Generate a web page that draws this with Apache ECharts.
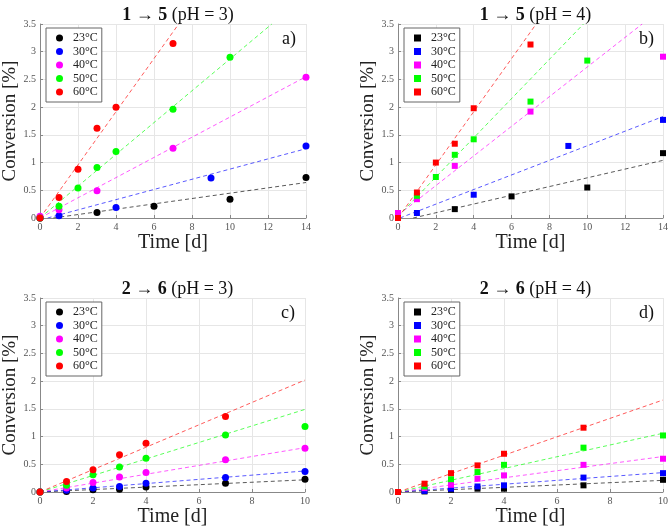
<!DOCTYPE html>
<html>
<head>
<meta charset="utf-8">
<script src="https://cdn.jsdelivr.net/npm/echarts@6/dist/echarts.min.js"></script>
<style>
  html, body { margin: 0; padding: 0; background: #fff; }
  #chart { width: 669px; height: 527px; }
</style>
</head>
<body>
<div id="chart"></div>
<script>
// temperatures and colours
const temps = ['23°C', '30°C', '40°C', '50°C', '60°C'];
const colors = ['#000000', '#0000ff', '#ff00ff', '#00ff00', '#ff0000'];

// panel a: 1 -> 5 (pH = 3), [day, conversion]
const aPts = [
  [[0, 0], [3, 0.1], [6, 0.21], [10, 0.34], [14, 0.73]],
  [[0, 0], [1, 0.04], [4, 0.19], [9, 0.72], [14, 1.3]],
  [[0, 0.03], [1, 0.15], [3, 0.49], [7, 1.26], [14, 2.54]],
  [[0, 0], [1, 0.21], [2, 0.54], [3, 0.91], [4, 1.2], [7, 1.96], [10, 2.9]],
  [[0, 0], [1, 0.37], [2, 0.88], [3, 1.62], [4, 2.0], [7, 3.15]]
];
const aFit = [
  [[0.7, 0], [14, 0.64]],
  [[0.4, 0], [14, 1.25]],
  [[0, 0], [14, 2.55]],
  [[0, 0], [12.2, 3.5]],
  [[0, 0], [7.3, 3.5]]
];

// panel b: 1 -> 5 (pH = 4)
const bPts = [
  [[0, 0], [3, 0.16], [6, 0.39], [10, 0.55], [14, 1.17]],
  [[0, 0], [1, 0.09], [4, 0.42], [9, 1.3], [14, 1.77]],
  [[0, 0.09], [1, 0.34], [3, 0.94], [7, 1.92], [14, 2.91]],
  [[0, 0], [1, 0.4], [2, 0.74], [3, 1.14], [4, 1.42], [7, 2.1], [10, 2.84]],
  [[0, 0], [1, 0.46], [2, 1.0], [3, 1.34], [4, 1.98], [7, 3.13]]
];
const bFit = [
  [[0.8, 0], [14, 1.04]],
  [[0.1, 0], [14, 1.83]],
  [[0, 0.05], [12.9, 3.5]],
  [[0, 0.03], [9.8, 3.5]],
  [[0, 0], [7.3, 3.5]]
];

// panel c: 2 -> 6 (pH = 3)
const cPts = [
  [[0, 0], [1, 0.01], [2, 0.04], [3, 0.05], [4, 0.09], [7, 0.16], [10, 0.23]],
  [[0, 0], [1, 0.03], [2, 0.07], [3, 0.1], [4, 0.16], [7, 0.26], [10, 0.37]],
  [[0, 0], [1, 0.07], [2, 0.17], [3, 0.27], [4, 0.35], [7, 0.58], [10, 0.79]],
  [[0, 0], [1, 0.12], [2, 0.31], [3, 0.45], [4, 0.61], [7, 1.03], [10, 1.18]],
  [[0, 0], [1, 0.19], [2, 0.4], [3, 0.67], [4, 0.88], [7, 1.36]]
];
const cFit = [
  [[0, 0], [10, 0.22]],
  [[0, 0], [10, 0.38]],
  [[0, 0], [10, 0.8]],
  [[0, 0], [10, 1.49]],
  [[0, 0], [10, 2.02]]
];

// panel d: 2 -> 6 (pH = 4)
const dPts = [
  [[0, 0], [1, 0.01], [2, 0.04], [3, 0.06], [4, 0.06], [7, 0.12], [10, 0.22]],
  [[0, 0], [1, 0.02], [2, 0.06], [3, 0.1], [4, 0.12], [7, 0.26], [10, 0.34]],
  [[0, 0], [1, 0.07], [2, 0.13], [3, 0.24], [4, 0.3], [7, 0.49], [10, 0.6]],
  [[0, 0], [1, 0.1], [2, 0.23], [3, 0.36], [4, 0.49], [7, 0.8], [10, 1.02]],
  [[0, 0], [1, 0.15], [2, 0.34], [3, 0.48], [4, 0.69], [7, 1.16]]
];
const dFit = [
  [[0, 0], [10, 0.21]],
  [[0, 0], [10, 0.35]],
  [[0, 0], [10, 0.64]],
  [[0, 0], [10, 1.06]],
  [[0, 0], [10, 1.66]]
];

const panels = [
  { pts: aPts, fit: aFit, xMax: 14, sym: 'circle', tag: 'a)', title: ['1', '5', '(pH = 3)'], left: 40, top: 24, w: 266 },
  { pts: bPts, fit: bFit, xMax: 14, sym: 'rect', tag: 'b)', title: ['1', '5', '(pH = 4)'], left: 398, top: 24, w: 265 },
  { pts: cPts, fit: cFit, xMax: 10, sym: 'circle', tag: 'c)', title: ['2', '6', '(pH = 3)'], left: 40, top: 298, w: 265 },
  { pts: dPts, fit: dFit, xMax: 10, sym: 'rect', tag: 'd)', title: ['2', '6', '(pH = 4)'], left: 398, top: 298, w: 265 }
];
const H = 194;
const serif = 'Liberation Serif';

var myChart = echarts.init(document.getElementById('chart'));

const grid = [], xAxis = [], yAxis = [], series = [], title = [], legend = [], graphic = [];

panels.forEach((p, i) => {
  grid.push({ left: p.left, top: p.top, width: p.w, height: H, containLabel: false, outerBoundsMode: 'none' });
  xAxis.push({
    gridIndex: i, type: 'value', min: 0, max: p.xMax, interval: 2,
    name: 'Time [d]', nameLocation: 'middle', nameGap: 13,
    nameTextStyle: { fontFamily: serif, fontSize: 20, color: '#222' },
    axisLine: { onZero: false, lineStyle: { color: '#888' } },
    axisTick: { inside: true, length: 3, lineStyle: { color: '#888' } },
    axisLabel: { fontFamily: serif, fontSize: 10, color: '#555', margin: 4 },
    splitLine: { show: true, lineStyle: { color: '#e6e6e6' } }
  });
  yAxis.push({
    gridIndex: i, type: 'value', min: 0, max: 3.5, interval: 0.5,
    name: 'Conversion [%]', nameLocation: 'middle', nameGap: 20,
    nameTextStyle: { fontFamily: serif, fontSize: 19, color: '#222' },
    axisLine: { show: true, lineStyle: { color: '#888' } },
    axisTick: { show: true, inside: true, length: 3, lineStyle: { color: '#888' } },
    axisLabel: { fontFamily: serif, fontSize: 10, color: '#555', margin: 4 },
    splitLine: { show: true, lineStyle: { color: '#e6e6e6' } }
  });
  title.push({
    left: p.left + p.w / 2, top: p.top - 23, textAlign: 'center',
    text: '{b|' + p.title[0] + '} → {b|' + p.title[1] + '} ' + p.title[2],
    textStyle: {
      fontFamily: serif, fontSize: 18, fontWeight: 'normal', color: '#111',
      rich: { b: { fontFamily: serif, fontSize: 18, fontWeight: 'bold', color: '#111' } }
    }
  });
  legend.push({
    left: p.left + 6, top: p.top + 4, orient: 'vertical',
    itemWidth: 7, itemHeight: 7, itemGap: 1.5,
    padding: [4, 4, 4, 10],
    backgroundColor: '#fff', borderColor: '#666', borderWidth: 1,
    textStyle: { fontFamily: serif, fontSize: 12, color: '#222', padding: [0, 0, 0, 5] },
    selectedMode: false,
    data: temps.map(t => ({ name: t, icon: p.sym }))
  });
  graphic.push({
    type: 'text', left: p.left + p.w - 24, top: p.top + 6, z: 100,
    style: { text: p.tag, font: '18px "' + serif + '"', fill: '#111' }
  });
  temps.forEach((t, k) => {
    series.push({
      name: 'fit', type: 'line', xAxisIndex: i, yAxisIndex: i,
      data: p.fit[k], showSymbol: false, symbol: 'none', silent: true,
      lineStyle: { color: colors[k], width: 1, type: [4, 3], opacity: 0.65 }
    });
  });
  temps.forEach((t, k) => {
    series.push({
      name: t, type: 'scatter', xAxisIndex: i, yAxisIndex: i,
      data: p.pts[k], symbol: p.sym, symbolSize: p.sym === 'rect' ? 6 : 7,
      itemStyle: { color: colors[k], opacity: 1 }, z: 3
    });
  });
});

var option = {
  animation: false,
  backgroundColor: '#fff',
  title: title,
  legend: legend,
  grid: grid,
  xAxis: xAxis,
  yAxis: yAxis,
  series: series,
  graphic: graphic
};
myChart.setOption(option);
</script>
</body>
</html>
